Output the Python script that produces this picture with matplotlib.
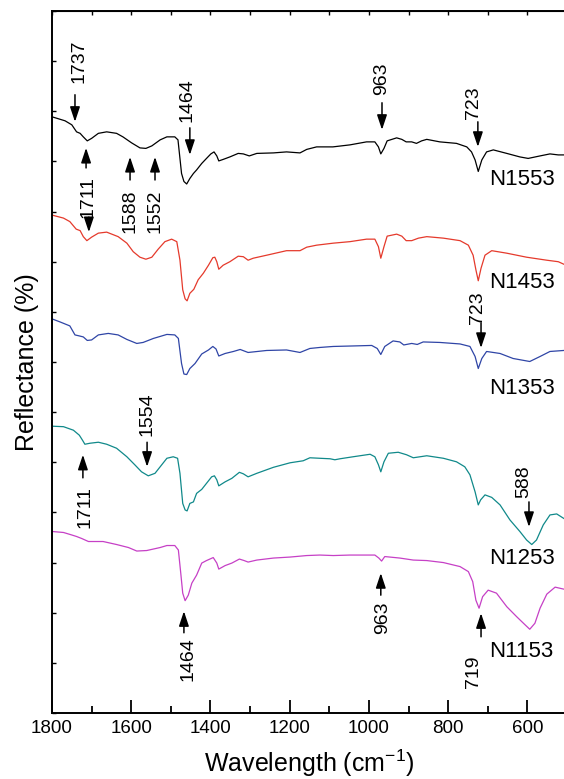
import numpy as np
import matplotlib
matplotlib.use("Agg")
import matplotlib.pyplot as plt
from matplotlib.patches import ArrowStyle

plt.rcParams['font.family'] = ['Liberation Sans', 'DejaVu Sans']

# spectra: wavenumber (cm-1) and offset reflectance (a.u.)
wn_1553 = [1800, 1767, 1750, 1738, 1729, 1721, 1711, 1700, 1683, 1662, 1637, 1621, 1599, 1578,
           1563, 1548, 1527, 1510, 1490, 1482, 1473, 1467, 1460, 1452, 1443, 1435, 1422, 1410,
           1399, 1391, 1384, 1379, 1368, 1351, 1330, 1317, 1302, 1283, 1241, 1208, 1174, 1157,
           1132, 1091, 1048, 1006, 985, 976, 970, 962, 954, 930, 917, 906, 892, 880, 867, 854,
           821, 779, 753, 741, 732, 724, 715, 703, 686, 652, 619, 598, 568, 543, 522, 508]
r_1553 = [118.9, 118.1, 117.3, 115.9, 115.6, 114.9, 114.1, 114.6, 115.6, 115.9, 115.6, 114.9,
          113.7, 112.7, 112.6, 113.1, 114.3, 114.9, 114.9, 114.3, 107.6, 106.0, 105.5, 106.6,
          107.6, 108.3, 109.6, 110.6, 111.5, 111.9, 111.1, 110.1, 110.4, 110.9, 111.6, 111.5,
          111.1, 111.6, 111.7, 111.9, 111.7, 112.4, 112.9, 112.9, 113.3, 113.9, 113.9, 112.9,
          111.5, 112.6, 114.1, 114.7, 114.4, 113.9, 113.9, 113.6, 114.1, 114.4, 113.9, 113.6,
          112.9, 111.9, 110.3, 108.0, 110.3, 111.9, 112.3, 111.6, 110.9, 110.6, 111.1, 111.5,
          111.3, 111.3]

wn_1453 = [1800, 1771, 1755, 1739, 1729, 1721, 1712, 1700, 1683, 1662, 1633, 1611, 1595, 1578,
           1563, 1548, 1532, 1515, 1498, 1485, 1477, 1470, 1464, 1459, 1452, 1442, 1431, 1418,
           1405, 1394, 1389, 1384, 1379, 1368, 1351, 1330, 1317, 1305, 1292, 1258, 1208, 1174,
           1157, 1132, 1090, 1048, 1006, 985, 976, 970, 962, 954, 930, 917, 906, 892, 875, 854,
           812, 770, 749, 737, 730, 724, 717, 707, 690, 652, 602, 551, 522, 508]
r_1453 = [99.3, 98.7, 98.0, 96.5, 96.2, 95.0, 94.2, 94.9, 95.7, 95.9, 95.0, 93.7, 92.0, 90.9,
          90.5, 90.9, 92.5, 94.0, 94.5, 94.0, 90.3, 84.4, 82.6, 82.2, 83.7, 84.5, 86.4, 87.7,
          89.3, 90.8, 90.9, 90.0, 88.5, 89.3, 90.0, 91.1, 91.0, 90.3, 90.7, 91.3, 92.2, 92.2,
          92.9, 93.3, 93.7, 94.0, 94.5, 94.5, 93.0, 90.7, 93.0, 95.1, 95.5, 95.1, 94.2, 94.2,
          94.7, 95.0, 94.7, 94.2, 93.3, 91.3, 88.4, 86.2, 88.7, 91.3, 92.2, 91.7, 90.9, 90.3,
          90.0, 89.5]

wn_1353 = [1800, 1780, 1755, 1742, 1731, 1721, 1711, 1700, 1683, 1658, 1633, 1611, 1586, 1570,
           1544, 1510, 1490, 1481, 1473, 1467, 1460, 1452, 1439, 1422, 1405, 1394, 1386, 1379,
           1363, 1342, 1325, 1305, 1258, 1208, 1174, 1149, 1124, 1090, 1040, 993, 979, 970, 960,
           939, 922, 912, 892, 878, 863, 821, 770, 745, 732, 724, 715, 703, 669, 636, 594, 568,
           543, 508]
r_1353 = [78.6, 78.0, 77.2, 75.4, 75.2, 75.0, 74.3, 74.4, 75.4, 75.7, 75.4, 74.5, 73.7, 73.9,
          74.7, 75.5, 75.4, 74.7, 69.7, 67.6, 67.5, 68.7, 69.7, 71.6, 72.4, 73.1, 72.6, 71.2,
          71.7, 72.1, 72.5, 71.9, 72.3, 72.4, 71.9, 72.7, 72.9, 73.1, 73.2, 73.3, 72.7, 71.5,
          73.1, 74.2, 74.0, 73.4, 73.7, 73.5, 74.0, 73.9, 73.6, 73.1, 71.1, 68.7, 70.7, 72.1,
          71.7, 70.7, 70.1, 71.1, 72.1, 72.3]

wn_1253 = [1800, 1771, 1746, 1731, 1723, 1717, 1704, 1683, 1662, 1637, 1611, 1591, 1574, 1557,
           1540, 1527, 1510, 1494, 1483, 1477, 1470, 1464, 1459, 1452, 1443, 1435, 1422, 1410,
           1397, 1390, 1384, 1379, 1363, 1346, 1327, 1317, 1305, 1283, 1241, 1199, 1166, 1149,
           1124, 1098, 1086, 1073, 1040, 997, 985, 976, 970, 962, 951, 926, 905, 888, 854, 812,
           779, 758, 745, 732, 724, 718, 707, 690, 669, 644, 619, 602, 589, 577, 560, 543, 526,
           508]
r_1253 = [57.2, 57.1, 56.4, 55.4, 54.4, 53.6, 53.8, 54.0, 53.6, 52.8, 51.1, 49.5, 48.1, 47.3,
          47.8, 49.1, 50.8, 51.1, 50.8, 47.8, 41.8, 40.5, 40.3, 41.8, 42.1, 43.8, 44.6, 45.8,
          47.1, 47.3, 46.5, 45.3, 46.1, 46.8, 48.0, 47.7, 47.1, 47.8, 49.0, 49.9, 50.3, 50.9,
          50.8, 50.7, 50.5, 50.7, 51.1, 51.6, 51.1, 49.5, 48.1, 50.1, 51.8, 52.0, 51.5, 50.9,
          51.3, 50.8, 50.1, 49.1, 47.5, 44.1, 41.5, 42.5, 43.5, 43.0, 41.5, 38.5, 36.2, 34.5,
          33.6, 34.5, 37.5, 39.5, 39.7, 38.8]

wn_1153 = [1800, 1771, 1750, 1738, 1725, 1708, 1671, 1637, 1607, 1586, 1561, 1527, 1510, 1490,
           1481, 1475, 1470, 1464, 1456, 1447, 1435, 1422, 1410, 1393, 1384, 1379, 1363, 1346,
           1327, 1315, 1305, 1283, 1241, 1199, 1157, 1124, 1090, 1048, 985, 975, 968, 960, 922,
           888, 854, 812, 770, 749, 738, 730, 722, 713, 699, 678, 652, 627, 606, 594, 581, 568,
           551, 530, 508]
r_1153 = [36.2, 36.0, 35.5, 35.2, 34.8, 34.2, 34.2, 33.6, 33.0, 32.3, 32.4, 33.0, 33.4, 33.4,
          32.5, 27.9, 23.9, 22.4, 23.5, 25.9, 27.5, 29.9, 30.4, 31.0, 29.9, 28.7, 29.4, 29.9,
          30.7, 30.4, 30.1, 30.5, 30.9, 31.1, 31.4, 31.5, 31.4, 31.5, 31.5, 30.9, 30.3, 31.2,
          30.9, 30.5, 30.4, 30.0, 29.2, 28.2, 26.2, 22.5, 20.9, 23.2, 24.5, 23.9, 21.2, 19.2,
          17.6, 16.7, 17.9, 20.9, 23.7, 25.1, 24.7]

samples = ['N1553', 'N1453', 'N1353', 'N1253', 'N1153']
colors = ['black', '#e53a2c', '#2f45a6', '#10898a', '#c640c6']
spectra = [(wn_1553, r_1553), (wn_1453, r_1453), (wn_1353, r_1353),
           (wn_1253, r_1253), (wn_1153, r_1153)]
label_y = [106.3, 85.8, 64.8, 30.9, 12.2]

fig = plt.figure(figsize=(5.64, 7.79), dpi=100)
ax = fig.add_axes([52 / 564, 66 / 779, 515 / 564, 702 / 779])

for (wn, r), c, name, ly in zip(spectra, colors, samples, label_y):
    ax.plot(wn, r, color=c, lw=0.9, solid_joinstyle='round')
    ax.text(697, ly, name, fontsize=16, ha='left', va='center')

head = ArrowStyle('-|>', head_length=0.9, head_width=0.3)


def mark(label, x, y_tip, y_tail, tx, ty):
    ax.annotate('', xy=(x, y_tip), xytext=(x, y_tail),
                arrowprops=dict(arrowstyle=head, mutation_scale=10, lw=1.1,
                                color='black', shrinkA=0, shrinkB=0))
    if label:
        ax.text(tx, ty, label, rotation=90, fontsize=14, ha='center', va='center')


# N1553
mark('1737', 1742, 117.9, 123.3, 1732, 129.9)
mark('1711', 1714, 112.7, 108.7, 1709, 103.0)
mark('', 1707, 95.9, 98.9, 0, 0)
mark('1588', 1603, 110.9, 106.3, 1603, 100.1)
mark('1552', 1540, 110.9, 106.3, 1540, 100.1)
mark('1464', 1452, 111.3, 116.7, 1459, 122.3)
mark('963', 967, 116.3, 121.7, 967, 126.5)
mark('723', 725, 112.9, 117.9, 735, 121.8)
# N1353
mark('723', 717, 72.8, 77.8, 727, 80.9)
# N1253
mark('1554', 1560, 49.1, 54.0, 1560, 59.6)
mark('1711', 1722, 51.5, 46.9, 1717, 41.1)
mark('588', 596, 37.1, 42.1, 609, 46.2)
# N1153
mark('1464', 1467, 20.3, 16.0, 1457, 10.7)
mark('963', 970, 27.9, 23.5, 965, 19.0)
mark('719', 717, 19.9, 15.2, 737, 8.2)

ax.set_xlim(1800, 500)
ax.set_ylim(0, 140)
ax.set_xticks(np.arange(1800, 499, -200))
ax.set_xticks(np.arange(1700, 499, -200), minor=True)
ax.set_yticks(np.arange(0, 141, 10))
ax.set_yticklabels([])
ax.tick_params(axis='x', which='major', direction='in', length=9.5, width=1.3,
               labelsize=13.5, pad=5)
ax.tick_params(axis='x', which='minor', direction='in', length=5, width=1.3)
ax.tick_params(axis='y', direction='in', length=3, width=1)
for s in ax.spines.values():
    s.set_linewidth(1.4)

top = ax.secondary_xaxis('top')
top.set_xticks(np.arange(1800, 499, -100))
top.tick_params(direction='in', length=3, width=1, labeltop=False)

ax.set_xlabel('Wavelength (cm$^{\\mathregular{-1}}$)', fontsize=18, labelpad=8)
ax.set_ylabel('Reflectance (%)', fontsize=18, labelpad=6)

fig.savefig('out.png', dpi=100)
